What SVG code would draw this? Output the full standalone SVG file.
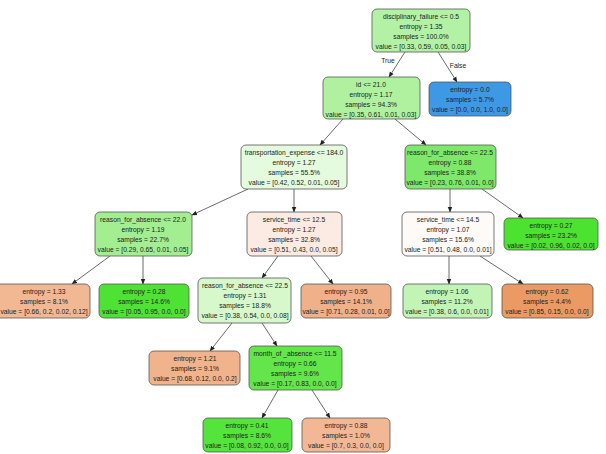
<svg xmlns="http://www.w3.org/2000/svg" width="606" height="454" viewBox="0 0 606 454">
<style>
rect{stroke:#555;stroke-width:0.8}
text{font-family:"Liberation Sans",Arial,sans-serif;font-size:8px;fill:#222;text-anchor:middle;transform-box:fill-box;transform-origin:center;transform:scaleX(0.84)}
.e line{stroke:#444;stroke-width:0.8;marker-end:url(#a)}
</style>
<defs><marker id="a" viewBox="0 0 10 10" refX="9" refY="5" markerWidth="7" markerHeight="7" orient="auto"><path d="M0,1L10,5L0,9z" fill="#222"/></marker></defs>
<rect width="606" height="454" fill="#fff" style="stroke:none"/>
<g class="e">
<line x1="405" y1="52" x2="389" y2="77"/>
<line x1="438" y1="52" x2="457" y2="82"/>
<line x1="343" y1="119" x2="320" y2="145"/>
<line x1="395" y1="119" x2="426" y2="145"/>
<line x1="248" y1="189" x2="192" y2="215"/>
<line x1="294" y1="189" x2="294" y2="212"/>
<line x1="450" y1="189" x2="450" y2="212"/>
<line x1="482" y1="189" x2="523" y2="218"/>
<line x1="110" y1="256" x2="72" y2="284"/>
<line x1="143" y1="256" x2="143" y2="284"/>
<line x1="278" y1="256" x2="262" y2="278"/>
<line x1="311" y1="256" x2="333" y2="284"/>
<line x1="449" y1="256" x2="449" y2="284"/>
<line x1="480" y1="256" x2="523" y2="284"/>
<line x1="232" y1="323" x2="210" y2="351"/>
<line x1="262" y1="323" x2="277" y2="346"/>
<line x1="278" y1="390" x2="262" y2="418"/>
<line x1="312" y1="390" x2="330" y2="418"/>
</g>
<text x="388" y="63">True</text>
<text x="458" y="68">False</text>
<g id="root"><rect x="372" y="9" width="98" height="43" rx="5" fill="#b3f1a4"/><text x="421" y="19">disciplinary_failure &lt;= 0.5</text><text x="421" y="29">entropy = 1.35</text><text x="421" y="39">samples = 100.0%</text><text x="421" y="49">value = [0.33, 0.59, 0.05, 0.03]</text></g>
<g id="n_id"><rect x="323" y="77" width="97" height="42" rx="5" fill="#b0f1a0"/><text x="371" y="87">id &lt;= 21.0</text><text x="371" y="97">entropy = 1.17</text><text x="371" y="107">samples = 94.3%</text><text x="371" y="117">value = [0.35, 0.61, 0.01, 0.03]</text></g>
<g id="n_false"><rect x="429" y="82" width="82" height="34" rx="5" fill="#3d98e5"/><text x="470" y="92">entropy = 0.0</text><text x="470" y="102">samples = 5.7%</text><text x="470" y="112">value = [0.0, 0.0, 1.0, 0.0]</text></g>
<g id="n_trans"><rect x="241" y="145" width="106" height="44" rx="5" fill="#e4fbdd"/><text x="294" y="155">transportation_expense &lt;= 184.0</text><text x="294" y="165">entropy = 1.27</text><text x="294" y="175">samples = 55.5%</text><text x="294" y="185">value = [0.42, 0.52, 0.01, 0.05]</text></g>
<g id="n_r225a"><rect x="405" y="145" width="91" height="44" rx="5" fill="#7ee86a"/><text x="450" y="155">reason_for_absence &lt;= 22.5</text><text x="450" y="165">entropy = 0.88</text><text x="450" y="175">samples = 38.8%</text><text x="450" y="185">value = [0.23, 0.76, 0.01, 0.0]</text></g>
<g id="n_r220"><rect x="95" y="212" width="97" height="44" rx="5" fill="#a2ee91"/><text x="143" y="222">reason_for_absence &lt;= 22.0</text><text x="143" y="232">entropy = 1.19</text><text x="143" y="242">samples = 22.7%</text><text x="143" y="252">value = [0.29, 0.65, 0.01, 0.05]</text></g>
<g id="n_s125"><rect x="247" y="212" width="95" height="44" rx="5" fill="#fcebe2"/><text x="294" y="222">service_time &lt;= 12.5</text><text x="294" y="232">entropy = 1.27</text><text x="294" y="242">samples = 32.8%</text><text x="294" y="252">value = [0.51, 0.43, 0.0, 0.05]</text></g>
<g id="n_s145"><rect x="402" y="212" width="92" height="44" rx="5" fill="#fdfaf7"/><text x="448" y="222">service_time &lt;= 14.5</text><text x="448" y="232">entropy = 1.07</text><text x="448" y="242">samples = 15.6%</text><text x="448" y="252">value = [0.51, 0.48, 0.0, 0.01]</text></g>
<g id="n_l027"><rect x="504" y="218" width="94" height="32" rx="5" fill="#4be32f"/><text x="551" y="228">entropy = 0.27</text><text x="551" y="238">samples = 23.2%</text><text x="551" y="248">value = [0.02, 0.96, 0.02, 0.0]</text></g>
<g id="n_l133"><rect x="-6" y="284" width="96" height="34" rx="5" fill="#f2b894"/><text x="44" y="294">entropy = 1.33</text><text x="44" y="304">samples = 8.1%</text><text x="44" y="314">value = [0.66, 0.2, 0.02, 0.12]</text></g>
<g id="n_l028"><rect x="99" y="284" width="90" height="34" rx="5" fill="#4ee334"/><text x="144" y="294">entropy = 0.28</text><text x="144" y="304">samples = 14.6%</text><text x="144" y="314">value = [0.05, 0.95, 0.0, 0.0]</text></g>
<g id="n_r225b"><rect x="198" y="278" width="93" height="45" rx="5" fill="#d6f8cb"/><text x="245" y="288">reason_for_absence &lt;= 22.5</text><text x="245" y="298">entropy = 1.31</text><text x="245" y="308">samples = 18.8%</text><text x="245" y="318">value = [0.38, 0.54, 0.0, 0.08]</text></g>
<g id="n_l095"><rect x="301" y="284" width="90" height="34" rx="5" fill="#efb08a"/><text x="346" y="294">entropy = 0.95</text><text x="346" y="304">samples = 14.1%</text><text x="346" y="314">value = [0.71, 0.28, 0.01, 0.0]</text></g>
<g id="n_l106"><rect x="403" y="284" width="89" height="34" rx="5" fill="#c2f5b5"/><text x="447" y="294">entropy = 1.06</text><text x="447" y="304">samples = 11.2%</text><text x="447" y="314">value = [0.38, 0.6, 0.0, 0.01]</text></g>
<g id="n_l062"><rect x="502" y="284" width="91" height="34" rx="5" fill="#ea9a62"/><text x="547" y="294">entropy = 0.62</text><text x="547" y="304">samples = 4.4%</text><text x="547" y="314">value = [0.85, 0.15, 0.0, 0.0]</text></g>
<g id="n_l121"><rect x="149" y="351" width="91" height="34" rx="5" fill="#f0b38c"/><text x="195" y="361">entropy = 1.21</text><text x="195" y="371">samples = 9.1%</text><text x="195" y="381">value = [0.68, 0.12, 0.0, 0.2]</text></g>
<g id="n_month"><rect x="249" y="346" width="93" height="44" rx="5" fill="#62e64a"/><text x="295" y="356">month_of _absence &lt;= 11.5</text><text x="295" y="366">entropy = 0.66</text><text x="295" y="376">samples = 9.6%</text><text x="295" y="386">value = [0.17, 0.83, 0.0, 0.0]</text></g>
<g id="n_l041"><rect x="203" y="418" width="89" height="34" rx="5" fill="#55e43b"/><text x="247" y="428">entropy = 0.41</text><text x="247" y="438">samples = 8.6%</text><text x="247" y="448">value = [0.08, 0.92, 0.0, 0.0]</text></g>
<g id="n_l088"><rect x="302" y="418" width="88" height="34" rx="5" fill="#f2b896"/><text x="346" y="428">entropy = 0.88</text><text x="346" y="438">samples = 1.0%</text><text x="346" y="448">value = [0.7, 0.3, 0.0, 0.0]</text></g>
</svg>
